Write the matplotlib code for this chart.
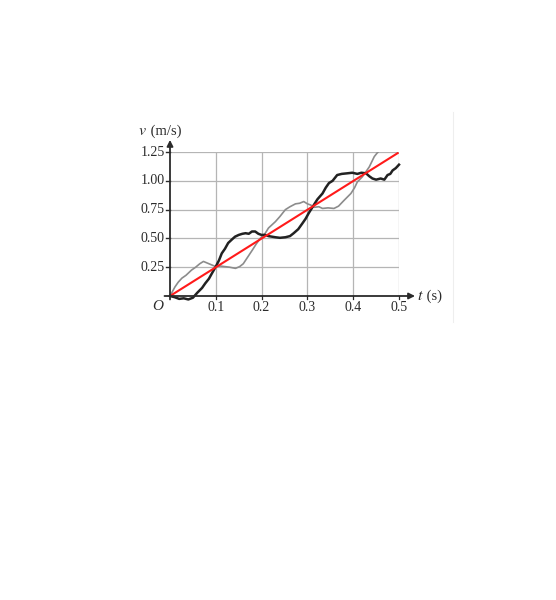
import numpy as np
import matplotlib
matplotlib.use("Agg")
import matplotlib.pyplot as plt
from matplotlib.lines import Line2D

# values
t_black = [0, 0.01, 0.02, 0.03, 0.04, 0.05, 0.06, 0.07, 0.077, 0.085, 0.092, 0.1,
           0.107, 0.113, 0.12, 0.127, 0.135, 0.142, 0.15, 0.158, 0.165, 0.172, 0.179,
           0.186, 0.193, 0.2, 0.208, 0.215, 0.23, 0.24, 0.252, 0.262, 0.27, 0.28,
           0.289, 0.296, 0.303, 0.314, 0.322, 0.333, 0.34, 0.347, 0.355, 0.365, 0.375,
           0.387, 0.398, 0.409, 0.418, 0.428, 0.435, 0.442, 0.45, 0.46, 0.468, 0.475,
           0.481, 0.486, 0.493, 0.5]
v_black = [0, -0.01, -0.025, -0.02, -0.03, -0.015, 0.03, 0.07, 0.11, 0.15, 0.2, 0.255,
           0.31, 0.37, 0.41, 0.46, 0.49, 0.515, 0.53, 0.54, 0.545, 0.54, 0.56,
           0.56, 0.54, 0.53, 0.53, 0.52, 0.51, 0.505, 0.51, 0.52, 0.545, 0.58,
           0.63, 0.67, 0.72, 0.79, 0.84, 0.89, 0.94, 0.98, 1.0, 1.05, 1.06,
           1.065, 1.07, 1.06, 1.07, 1.065, 1.04, 1.02, 1.01, 1.02, 1.01, 1.05,
           1.06, 1.09, 1.11, 1.14]

t_gray = [0, 0.011, 0.018, 0.026, 0.035, 0.047, 0.056, 0.065, 0.073, 0.082, 0.091, 0.1,
          0.11, 0.12, 0.13, 0.143, 0.152, 0.16, 0.17, 0.18, 0.188, 0.197, 0.208,
          0.215, 0.23, 0.24, 0.252, 0.262, 0.274, 0.283, 0.292, 0.3, 0.307, 0.315,
          0.325, 0.333, 0.345, 0.358, 0.368, 0.38, 0.395, 0.403, 0.409, 0.42, 0.428,
          0.435, 0.446, 0.452, 0.457]
v_gray = [0, 0.08, 0.12, 0.155, 0.18, 0.225, 0.25, 0.28, 0.3, 0.285, 0.27, 0.255,
          0.26, 0.255, 0.25, 0.24, 0.255, 0.28, 0.34, 0.4, 0.45, 0.5, 0.545,
          0.59, 0.645, 0.69, 0.75, 0.775, 0.8, 0.805, 0.82, 0.8, 0.79, 0.77,
          0.775, 0.76, 0.765, 0.76, 0.78, 0.83, 0.89, 0.94, 0.99, 1.035, 1.08,
          1.12, 1.21, 1.24, 1.26]

t_red = [0, 0.497]
v_red = [0, 1.24]

xticks = [0.1, 0.2, 0.3, 0.4, 0.5]
yticks = [0.25, 0.50, 0.75, 1.00, 1.25]

plt.rcParams['font.family'] = ['Liberation Serif', 'DejaVu Serif']
txt = '#2b2b2b'

fig = plt.figure(figsize=(5.56, 6.0), dpi=100)
ax = fig.add_axes([170/556, 1 - 296/600, 229/556, 144/600])
ax.set_xlim(0, 0.5)
ax.set_ylim(0, 1.25)

# grid
for x in xticks:
    ax.axvline(x, color='#b5b5b5', lw=0.9, zorder=1)
for y in yticks:
    ax.axhline(y, color='#b5b5b5', lw=0.9, zorder=1)

ax.plot(t_gray, v_gray, color='#8c8c8c', lw=1.2, zorder=3)
ax.plot(t_black, v_black, color='#222222', lw=1.8, zorder=4, clip_on=False)
ax.plot(t_red, v_red, color='#ff1a1a', lw=1.5, zorder=5)

for s in ax.spines.values():
    s.set_visible(False)
ax.set_xticks([])
ax.set_yticks([])

# axes with arrows
ax.annotate('', xy=(0.535, 0), xytext=(-0.012, 0), xycoords='data',
            arrowprops=dict(arrowstyle='-|>', color=txt, lw=1.3,
                            mutation_scale=9, shrinkA=0, shrinkB=0),
            annotation_clip=False, zorder=6)
ax.annotate('', xy=(0, 1.355), xytext=(0, -0.03), xycoords='data',
            arrowprops=dict(arrowstyle='-|>', color=txt, lw=1.3,
                            mutation_scale=9, shrinkA=0, shrinkB=0),
            annotation_clip=False, zorder=6)

# tick marks and labels
for y in yticks:
    ax.plot([-0.008, 0], [y, y], color=txt, lw=1.0, clip_on=False, zorder=6)
    ax.text(-0.012, y, f'{y:.2f}', ha='right', va='center', fontsize=10,
            color=txt)
for x in xticks:
    ax.plot([x, x], [-0.03, 0], color=txt, lw=0.9, clip_on=False, zorder=6)
    ax.text(x, -0.045, f'{x:.1f}', ha='center', va='top', fontsize=10,
            color=txt)

ax.text(-0.014, -0.035, 'O', style='italic', ha='right', va='top', fontsize=11,
        color=txt)
ax.text(-0.07, 1.43, r'$v$', ha='left', va='center', fontsize=11.5, color=txt,
        math_fontfamily='stix')
ax.text(-0.05, 1.43, ' (m/s)', ha='left', va='center', fontsize=10.5, color=txt)
ax.text(0.54, 0.0, r'$t$', ha='left', va='center', fontsize=11.5, color=txt,
        math_fontfamily='stix')
ax.text(0.552, 0.0, ' (s)', ha='left', va='center', fontsize=10.5, color=txt)

# faint page edge
fig.add_artist(Line2D([453/556, 453/556], [1 - 112/600, 1 - 322/600],
                      color='#eeeeee', lw=0.8))

fig.savefig('out.png', dpi=100)
